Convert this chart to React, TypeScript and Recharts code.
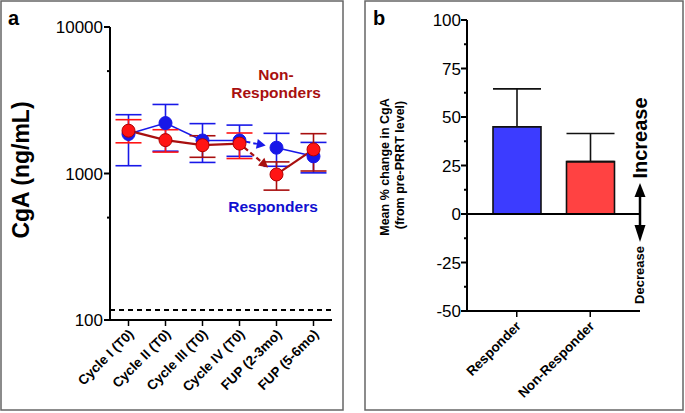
import React from 'react'
import { LineChart, Line, BarChart, Bar, Cell, XAxis, YAxis, ErrorBar, ReferenceLine } from 'recharts'

const FONT = '"Liberation Sans", Arial, sans-serif'

// panel a: CgA over time (log scale)
const timepoints = ['Cycle I (T0)', 'Cycle II (T0)', 'Cycle III (T0)', 'Cycle IV (T0)', 'FUP (2-3mo)', 'FUP (5-6mo)']
const respMean = [1860, 2210, 1680, 1680, 1500, 1310]
const respLow = [1130, 1420, 1190, 1310, 1120, 1010]
const respHigh = [2520, 2960, 2190, 2140, 1880, 1630]
const nonMean = [1960, 1690, 1560, 1600, 985, 1460]
const nonLow = [1620, 1400, 1290, 1265, 770, 1040]
const nonHigh = [2330, 1990, 1810, 1890, 1200, 1870]
// which red error bars are drawn in the brighter red
const nonBright = [true, true, false, true, false, false]
const normalLimit = 117
const logTicks = [100, 500, 1000, 5000, 10000]
const logMajor = [100, 1000, 10000]

// panel b: mean % change
const groups = ['Responder', 'Non-Responder']
const changeMean = [45, 27]
const changeUpper = [64.5, 41.5]
const groupColors = ['#3c3cff', '#ff4242']
const pctTicks = [-50, -37.5, -25, -12.5, 0, 12.5, 25, 37.5, 50, 62.5, 75, 87.5, 100]

const BLUE = '#1818e8'
const DARKRED = '#a80f0f'
const RED = '#ff1414'

const lineData = timepoints.map((t, i) => ({
  t,
  resp: respMean[i],
  respErr: [respMean[i] - respLow[i], respHigh[i] - respMean[i]],
  respA: i <= 3 ? respMean[i] : null,
  respD: i === 3 || i === 4 ? respMean[i] : null,
  respB: i >= 4 ? respMean[i] : null,
  non: nonMean[i],
  nonErrBright: nonBright[i] ? [nonMean[i] - nonLow[i], nonHigh[i] - nonMean[i]] : null,
  nonErrDark: !nonBright[i] ? [nonMean[i] - nonLow[i], nonHigh[i] - nonMean[i]] : null,
  nonA: i <= 3 ? nonMean[i] : null,
  nonD: i === 3 || i === 4 ? nonMean[i] : null,
  nonB: i >= 4 ? nonMean[i] : null,
}))

const barData = groups.map((g, i) => ({
  g,
  v: changeMean[i],
  err: [0, changeUpper[i] - changeMean[i]],
}))

function arrowDot(color: string, w: number, dash: string) {
  return (props: any) => {
    const { cx, cy, index, points } = props
    if (index !== 4 || !points || cy == null || !points[3] || points[3].y == null) return <g key={`ad-${index}`} />
    const prev = points[3]
    const dx = cx - prev.x
    const dy = cy - prev.y
    const len = Math.hypot(dx, dy)
    const ux = dx / len
    const uy = dy / len
    const tipX = cx - ux * 11
    const tipY = cy - uy * 11
    const head = 9
    const bx = tipX - ux * head
    const by = tipY - uy * head
    const px = -uy
    const py = ux
    return (
      <g key={`ad-${index}`}>
        <line x1={prev.x + ux * 6} y1={prev.y + uy * 6} x2={bx} y2={by} stroke={color} strokeWidth={w} strokeDasharray={dash} />
        <polygon points={`${tipX},${tipY} ${bx + px * 5},${by + py * 5} ${bx - px * 5},${by - py * 5}`} fill={color} />
      </g>
    )
  }
}

const LogTick = (props: any) => {
  const { x, y, payload } = props
  const major = logMajor.includes(payload.value)
  return (
    <g>
      <line x1={x - (major ? 6 : 3)} x2={x} y1={y} y2={y} stroke="#000" strokeWidth={2} />
      {major && (
        <text x={x - 7} y={y} dy="0.36em" textAnchor="end" fontSize={17} fontFamily={FONT} fill="#000">
          {payload.value}
        </text>
      )}
    </g>
  )
}

const PctTick = (props: any) => {
  const { x, y, payload } = props
  const major = payload.value % 25 === 0
  return (
    <g>
      <line x1={x - (major ? 6 : 3)} x2={x} y1={y} y2={y} stroke="#000" strokeWidth={2} />
      {major && (
        <text x={x - 6} y={y} dy="0.36em" textAnchor="end" fontSize={17} fontFamily={FONT} fill="#000">
          {payload.value}
        </text>
      )}
    </g>
  )
}

const SlantTick = (dx: number, dy: number, size: number) => (props: any) => {
  const { x, y, payload } = props
  const tx = x + dx
  const ty = y + dy
  return (
    <text x={tx} y={ty} textAnchor="end" transform={`rotate(-45 ${tx} ${ty})`} fontSize={size} fontWeight="bold" fontFamily={FONT} fill="#000">
      {payload.value}
    </text>
  )
}

export default function App() {
  return (
    <div style={{ position: 'absolute', left: 0, top: 0, width: 685, height: 413, background: '#fff' }}>
      <div style={{ position: 'absolute', left: 0, top: 0 }}>
        <LineChart width={345} height={413} data={lineData} margin={{ top: 27, right: 13, bottom: 0, left: 0 }}>
          <XAxis
            dataKey="t"
            height={93}
            padding={{ left: 18.5, right: 18.5 }}
            axisLine={{ stroke: '#000', strokeWidth: 2 }}
            tickLine={{ stroke: '#000', strokeWidth: 1.5 }}
            tickSize={6}
            tickMargin={0}
            interval={0}
            tick={SlantTick(6, 9, 13.5)}
          />
          <YAxis
            scale="log"
            domain={[100, 10000]}
            ticks={logTicks}
            allowDataOverflow
            width={110}
            axisLine={{ stroke: '#000', strokeWidth: 2 }}
            tickLine={false}
            tickSize={0}
            tickMargin={0}
            interval={0}
            tick={<LogTick />}
          />
          <ReferenceLine y={normalLimit} stroke="#000" strokeWidth={2} strokeDasharray="5 4" />
          <Line dataKey="respA" stroke={BLUE} strokeWidth={1.6} dot={false} isAnimationActive={false} />
          <Line dataKey="respB" stroke={BLUE} strokeWidth={1.6} dot={false} isAnimationActive={false} />
          <Line dataKey="respD" stroke="none" dot={arrowDot(BLUE, 2, '5 3')} isAnimationActive={false} />
          <Line dataKey="resp" stroke="none" dot={{ r: 6.5, fill: BLUE, stroke: BLUE, strokeWidth: 1 }} isAnimationActive={false}>
            <ErrorBar dataKey="respErr" width={13} stroke={BLUE} strokeWidth={1.6} direction="y" />
          </Line>
          <Line dataKey="nonA" stroke={DARKRED} strokeWidth={2.2} dot={false} isAnimationActive={false} />
          <Line dataKey="nonB" stroke={DARKRED} strokeWidth={2.2} dot={false} isAnimationActive={false} />
          <Line dataKey="nonD" stroke="none" dot={arrowDot(DARKRED, 2.2, '5 3')} isAnimationActive={false} />
          <Line dataKey="non" stroke="none" dot={{ r: 6.5, fill: RED, stroke: '#b00000', strokeWidth: 1 }} isAnimationActive={false}>
            <ErrorBar dataKey="nonErrBright" width={13} stroke={RED} strokeWidth={1.6} direction="y" />
            <ErrorBar dataKey="nonErrDark" width={13} stroke={DARKRED} strokeWidth={1.6} direction="y" />
          </Line>
        </LineChart>
      </div>
      <div style={{ position: 'absolute', left: 345, top: 0 }}>
        <BarChart width={340} height={413} data={barData} margin={{ top: 20, right: 45, bottom: 0, left: 0 }}>
          <XAxis
            dataKey="g"
            height={102}
            padding={{ left: 13, right: 13 }}
            axisLine={{ stroke: '#000', strokeWidth: 2 }}
            tickLine={{ stroke: '#000', strokeWidth: 1.5 }}
            tickSize={6}
            tickMargin={0}
            interval={0}
            tick={SlantTick(5, 10, 13.5)}
          />
          <YAxis
            domain={[-50, 100]}
            ticks={pctTicks}
            allowDataOverflow
            width={122}
            axisLine={{ stroke: '#000', strokeWidth: 2 }}
            tickLine={false}
            tickSize={0}
            tickMargin={0}
            interval={0}
            tick={<PctTick />}
          />
          <Bar dataKey="v" barSize={48} stroke="#111" strokeWidth={1.6} isAnimationActive={false}>
            {barData.map((d, i) => (
              <Cell key={d.g} fill={groupColors[i]} />
            ))}
            <ErrorBar dataKey="err" width={24} stroke="#111" strokeWidth={1.6} direction="y" />
          </Bar>
          <ReferenceLine y={0} stroke="#000" strokeWidth={2} />
        </BarChart>
      </div>
      <svg width={685} height={413} style={{ position: 'absolute', left: 0, top: 0, pointerEvents: 'none' }} fontFamily={FONT}>
        <rect x={1} y={1} width={342} height={409} fill="none" stroke="#666" strokeWidth={1.5} />
        <rect x={365} y={1} width={318} height={409} fill="none" stroke="#666" strokeWidth={1.5} />
        <text x={8} y={25} fontSize={20} fontWeight="bold">a</text>
        <text x={373} y={25} fontSize={20} fontWeight="bold">b</text>
        <text x={29} y={170} fontSize={23} fontWeight="bold" textAnchor="middle" transform="rotate(-90 29 170)">CgA (ng/mL)</text>
        <text x={276} y={80} fontSize={15.5} fontWeight="bold" textAnchor="middle" fill={DARKRED}>Non-</text>
        <text x={276} y={98} fontSize={15.5} fontWeight="bold" textAnchor="middle" fill={DARKRED}>Responders</text>
        <text x={273} y={212} fontSize={15.5} fontWeight="bold" textAnchor="middle" fill="#1010d0">Responders</text>
        <text x={389} y={167} fontSize={12.5} fontWeight="bold" textAnchor="middle" transform="rotate(-90 389 167)">Mean % change in CgA</text>
        <text x={404} y={165} fontSize={12.5} fontWeight="bold" textAnchor="middle" transform="rotate(-90 404 165)">(from pre-PRRT level)</text>
        <text x={647} y={138} fontSize={20} fontWeight="bold" textAnchor="middle" transform="rotate(-90 647 138)">Increase</text>
        <text x={644} y={275} fontSize={13} fontWeight="bold" textAnchor="middle" transform="rotate(-90 644 275)">Decrease</text>
        <line x1={640} y1={195} x2={640} y2={227} stroke="#000" strokeWidth={2.5} />
        <polygon points="640,183 634.5,197 645.5,197" fill="#000" />
        <polygon points="640,242 634.5,225 645.5,225" fill="#000" />
      </svg>
    </div>
  )
}
